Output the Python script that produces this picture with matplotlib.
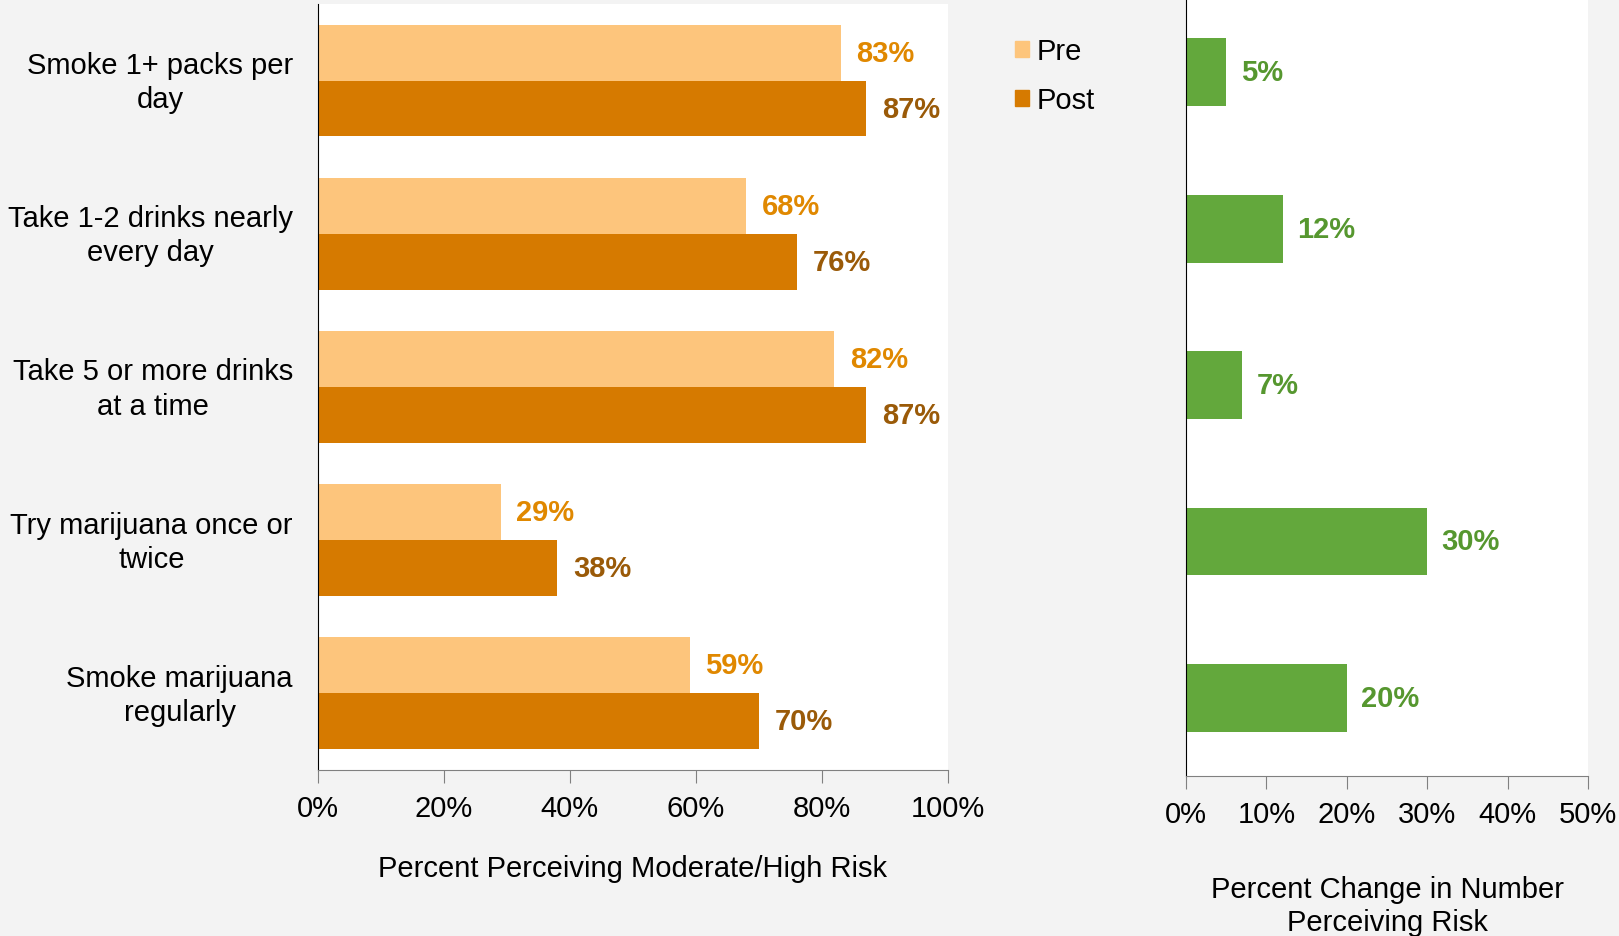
import matplotlib.pyplot as plt
from matplotlib.patches import Patch
from matplotlib.transforms import ScaledTranslation

plt.rcParams["font.family"] = ["Liberation Sans", "DejaVu Sans"]

# data
categories = [
    "Smoke 1+ packs per\nday",
    "Take 1-2 drinks nearly\nevery day",
    "Take 5 or more drinks\nat a time",
    "Try marijuana once or\ntwice",
    "Smoke marijuana\nregularly",
]
pre = [83, 68, 82, 29, 59]
post = [87, 76, 87, 38, 70]
change = [5, 12, 7, 30, 20]
left_ticks = [0, 20, 40, 60, 80, 100]
right_ticks = [0, 10, 20, 30, 40, 50]

pre_color = "#fdc57c"
post_color = "#d67a00"
green = "#63a83c"
fs = 21

fig = plt.figure(figsize=(16.19, 9.37), dpi=100, facecolor="#f3f3f3")

# left chart: pre / post
ax = fig.add_axes([0.1964, 0.1772, 0.389, 0.8175])
ax.set_facecolor("white")
y = list(range(len(categories)))
h = 0.365
ax.barh([v - h / 2 for v in y], pre, height=h, color=pre_color)
ax.barh([v + h / 2 for v in y], post, height=h, color=post_color)
for i in y:
    ax.text(pre[i] + 2.5, i - h / 2, f"{pre[i]}%", va="center", ha="left",
            fontsize=fs, fontweight="bold", color="#e08800")
    ax.text(post[i] + 2.5, i + h / 2, f"{post[i]}%", va="center", ha="left",
            fontsize=fs, fontweight="bold", color="#9a5a08")
ax.set_ylim(len(categories) - 0.5, -0.5)
ax.set_xlim(0, 100)
ax.set_yticks([])
# category labels, right aligned next to the axis, lines centred
lab_tr = ax.get_yaxis_transform() + ScaledTranslation(-0.25, -0.015, fig.dpi_scale_trans)
for i, cat in enumerate(categories):
    ax.text(0, i, cat, transform=lab_tr, ha="right", va="center",
            multialignment="center", fontsize=fs, linespacing=1.28)
ax.set_xticks(left_ticks)
ax.set_xticklabels([f"{t}%" for t in left_ticks], fontsize=fs)
ax.tick_params(axis="x", length=9, color="#808080", pad=8)
for s in ["top", "right"]:
    ax.spines[s].set_visible(False)
ax.spines["left"].set_color("black")
ax.spines["bottom"].set_color("#808080")
ax.set_xlabel("Percent Perceiving Moderate/High Risk", fontsize=fs, labelpad=23)

fig.legend(handles=[Patch(color=pre_color, label="Pre"),
                    Patch(color=post_color, label="Post")],
           loc="upper left", bbox_to_anchor=(0.6106, 0.987), frameon=False,
           fontsize=fs, handlelength=0.5, handleheight=0.5,
           handletextpad=0.25, labelspacing=0.72)

# right chart: percent change
ax2 = fig.add_axes([0.7326, 0.1707, 0.2483, 0.8346])
ax2.set_facecolor("white")
ax2.barh(y, change, height=0.434, color=green)
for i in y:
    ax2.text(change[i] + 1.8, i, f"{change[i]}%", va="center", ha="left",
             fontsize=fs, fontweight="bold", color="#56972f")
ax2.set_ylim(len(categories) - 0.5, -0.5)
ax2.set_xlim(0, 50)
ax2.set_yticks([])
ax2.set_xticks(right_ticks)
ax2.set_xticklabels([f"{t}%" for t in right_ticks], fontsize=fs)
ax2.tick_params(axis="x", length=9, color="#808080", pad=8)
for s in ["top", "right"]:
    ax2.spines[s].set_visible(False)
ax2.spines["left"].set_color("black")
ax2.spines["bottom"].set_color("#808080")
ax2.set_xlabel("Percent Change in Number\nPerceiving Risk", fontsize=fs,
               labelpad=34, linespacing=1.22)

fig.savefig("out.png", dpi=100, facecolor=fig.get_facecolor())
